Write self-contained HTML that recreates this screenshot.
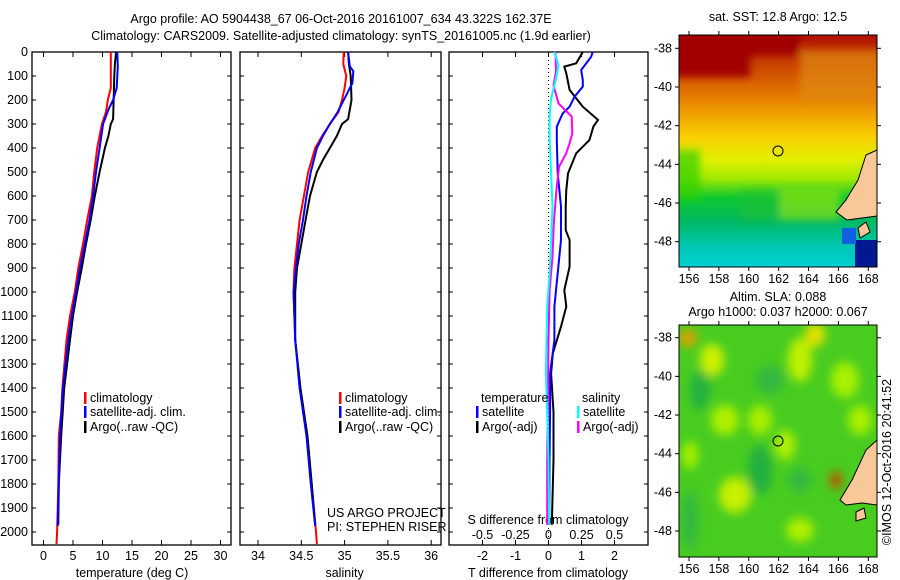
<!DOCTYPE html>
<html><head><meta charset="utf-8"><style>
body{margin:0;background:#fff;}
svg{display:block;font-family:"Liberation Sans",sans-serif;}
text{font-size:12.5px;fill:#000;}
</style></head><body>
<svg id="c" width="900" height="580" viewBox="0 0 900 580">
<defs>
<linearGradient id="sst" x1="0" y1="0" x2="0" y2="1">
<stop offset="0" stop-color="#b01000"/><stop offset="0.12" stop-color="#c84000"/>
<stop offset="0.24" stop-color="#e07000"/><stop offset="0.34" stop-color="#f0a000"/>
<stop offset="0.44" stop-color="#f8d000"/><stop offset="0.54" stop-color="#e0f000"/>
<stop offset="0.62" stop-color="#a0e800"/><stop offset="0.7" stop-color="#10c830"/>
<stop offset="0.8" stop-color="#00b860"/><stop offset="0.92" stop-color="#00c8b8"/><stop offset="1" stop-color="#00d0d0"/>
</linearGradient>
<filter id="bl"><feGaussianBlur stdDeviation="5"/></filter>
<filter id="bl2"><feGaussianBlur stdDeviation="4"/></filter>
<clipPath id="m1c"><rect x="679" y="35" width="198" height="232"/></clipPath>
<clipPath id="m2c"><rect x="679" y="325" width="198" height="232"/></clipPath>
</defs>
<text x="341" y="23" text-anchor="middle">Argo profile: AO 5904438_67 06-Oct-2016 20161007_634 43.322S 162.37E</text>
<text x="341" y="40" text-anchor="middle">Climatology: CARS2009. Satellite-adjusted climatology: synTS_20161005.nc (1.9d earlier)</text>
<g id="panels"></g>
<!-- SST map -->
<g>
<text x="778" y="21" text-anchor="middle">sat. SST: 12.8 Argo: 12.5</text>
<rect x="679" y="35" width="198" height="232" fill="url(#sst)"/>
<g clip-path="url(#m1c)" filter="url(#bl2)">
<rect x="670" y="25" width="80" height="52" fill="#a00000"/>
<rect x="740" y="25" width="60" height="30" fill="#a00000"/>
<rect x="800" y="50" width="80" height="50" fill="#e08a10" opacity="0.7"/>
<rect x="670" y="150" width="30" height="50" fill="#30d000" opacity="0.7"/>
<rect x="740" y="190" width="40" height="30" fill="#20c030" opacity="0.6"/>
<rect x="780" y="190" width="60" height="30" fill="#c0f000" opacity="0.5"/>
</g>
<rect x="855" y="240" width="22" height="27" fill="#001890"/>
<rect x="842" y="228" width="14" height="16" fill="#1060e0"/>
<path d="M877 150 L866 155 L858 180 L846 200 L836 212 L847 220 L862 218 L877 216 Z" fill="#f8c898" stroke="#000" stroke-width="1"/>
<path d="M858 228 L866 222 L870 232 L860 238 Z" fill="#f8c898" stroke="#000" stroke-width="1"/>
<circle cx="778" cy="151" r="5" fill="none" stroke="#000" stroke-width="1"/>
<rect x="679" y="35" width="198" height="232" fill="none" stroke="#000"/>
<g id="m1ax"></g>
</g>
<!-- SLA map -->
<g>
<text x="778" y="301" text-anchor="middle">Altim. SLA: 0.088</text>
<text x="778" y="316" text-anchor="middle">Argo h1000: 0.037 h2000: 0.067</text>
<rect x="679" y="325" width="198" height="232" fill="#48cc20"/>
<g clip-path="url(#m2c)" filter="url(#bl)">
<ellipse cx="688" cy="338" rx="9" ry="9" fill="#e0a000"/>
<ellipse cx="712" cy="360" rx="12" ry="16" fill="#d0f000"/>
<ellipse cx="800" cy="360" rx="12" ry="22" fill="#c0f000"/>
<ellipse cx="815" cy="335" rx="10" ry="12" fill="#e8e000"/>
<ellipse cx="845" cy="380" rx="14" ry="18" fill="#a8f000"/>
<ellipse cx="725" cy="420" rx="14" ry="15" fill="#b0f000"/>
<ellipse cx="760" cy="420" rx="12" ry="15" fill="#a8f000"/>
<ellipse cx="785" cy="445" rx="10" ry="15" fill="#b0f000"/>
<ellipse cx="735" cy="495" rx="16" ry="18" fill="#c8f000"/>
<ellipse cx="800" cy="530" rx="14" ry="12" fill="#b0f000"/>
<ellipse cx="860" cy="420" rx="12" ry="15" fill="#a8f000"/>
<ellipse cx="690" cy="455" rx="8" ry="14" fill="#a8f000"/>
<ellipse cx="700" cy="390" rx="10" ry="20" fill="#20b040"/>
<ellipse cx="760" cy="470" rx="12" ry="25" fill="#20b040"/>
<ellipse cx="800" cy="480" rx="12" ry="12" fill="#30b840"/>
<ellipse cx="690" cy="520" rx="8" ry="30" fill="#30b840"/>
<ellipse cx="770" cy="380" rx="14" ry="14" fill="#30b840"/>
<ellipse cx="836" cy="480" rx="6" ry="9" fill="#c05000"/>
</g>
<path d="M877 440 L866 450 L852 480 L840 500 L846 505 L862 503 L877 505 Z" fill="#f8c898" stroke="#000" stroke-width="1"/>
<path d="M856 512 L864 508 L866 518 L856 521 Z" fill="#f8c898" stroke="#000" stroke-width="1"/>
<circle cx="778" cy="441" r="5" fill="none" stroke="#000" stroke-width="1"/>
<rect x="679" y="325" width="198" height="232" fill="none" stroke="#000"/>
<g id="m2ax"></g>
<text transform="translate(891,462) rotate(-90)" text-anchor="middle">©IMOS 12-Oct-2016 20:41:52</text>
</g>
</svg>
<script>
// ---- data (depth in m) ----
const tClimD=[0,150,200,250,300,400,500,600,700,800,900,1000,1100,1200,1400,1500,1600,1800,2000,2050];
const tClimV=[11.4,11.4,10.9,10.6,9.9,9.1,8.6,8.2,7.4,6.7,5.9,5.3,4.5,3.9,3.2,3.0,2.6,2.5,2.3,2.2];
const tSatD=[0,60,150,200,240,300,400,500,600,700,800,900,1000,1100,1200,1400,1600,1800,1975];
const tSatV=[12.5,12.6,12.4,11.8,11.0,10.1,9.5,8.9,8.4,7.8,7.0,6.2,5.5,4.8,4.2,3.3,2.8,2.6,2.4];
const tArgoD=[0,50,100,280,300,350,400,500,600,700,800,900,1000,1100,1200,1400,1600,1800,1970];
const tArgoV=[12.3,12.1,12.0,11.8,11.4,11.0,10.4,9.5,8.7,8.0,7.2,6.5,5.7,5.0,4.5,3.5,3.0,2.6,2.5];
const sClimD=[0,50,100,150,200,250,300,350,400,450,500,600,700,800,900,1000,1200,1400,1600,1800,2000,2050];
const sClimV=[34.99,34.985,35.02,35.0,34.97,34.93,34.83,34.74,34.66,34.62,34.58,34.53,34.48,34.45,34.42,34.41,34.43,34.49,34.57,34.62,34.67,34.68];
const sSatD=[0,60,80,130,150,180,200,250,300,350,400,500,600,700,800,900,1000,1100,1200,1400,1600,1800,1975];
const sSatV=[35.04,35.06,35.10,35.09,35.06,35.02,34.99,34.92,34.83,34.75,34.68,34.61,34.56,34.52,34.47,34.44,34.41,34.42,34.43,34.48,34.56,34.61,34.66];
const sArgoD=[0,50,100,200,280,300,350,400,450,500,550,600,700,800,900,1000,1200,1400,1600,1800,1970];
const sArgoV=[35.04,35.05,35.07,35.08,35.04,34.97,34.91,34.83,34.75,34.68,34.64,34.60,34.55,34.50,34.45,34.43,34.43,34.49,34.57,34.62,34.66];
const dTArgoD=[0,47,61,89,158,228,283,311,367,422,506,575,644,742,783,894,992,1061,1144,1256,1339,1500,1700,1970];
const dTArgoV=[1.04,0.84,0.48,0.54,0.64,1.04,1.5,1.36,1.24,0.84,0.59,0.54,0.52,0.52,0.64,0.64,0.48,0.54,0.38,0.13,0.08,0.15,0.15,0.1];
const dTSatD=[0,20,75,117,144,186,228,256,311,367,506,644,783,922,1061,1200,1339,1500,1700,1970];
const dTSatV=[1.34,1.29,0.99,1.04,1.04,0.79,0.64,0.43,0.25,0.25,0.28,0.38,0.38,0.28,0.18,0.18,0.05,0.05,0.03,0.02];
const dSArgoD=[0,83,139,214,269,339,381,422,478,575,714,853,992,1200,1500,1700,1970];
const dSArgoV=[0.053,0.057,0.038,0.076,0.176,0.18,0.159,0.134,0.08,0.06,0.04,0.03,0.008,0.0,-0.005,-0.01,-0.01];
const dSSatD=[0,55,111,194,264,367,506,644,783,922,1061,1200,1339,1500,1700,1970];
const dSSatV=[0.045,0.076,0.057,0.02,0.008,0.008,0.02,0.03,0.02,0.008,-0.01,-0.015,-0.02,-0.01,0.0,0.005];
const depthTicks=[0,100,200,300,400,500,600,700,800,900,1000,1100,1200,1300,1400,1500,1600,1700,1800,1900,2000];
const tTicks=[0,5,10,15,20,25,30];
const sTicks=[34,34.5,35,35.5,36];
const dTTicks=[-2,-1,0,1,2];
const dSTicks=[-0.5,-0.25,0,0.25,0.5];
const dSTickLabels=["-0.5","-0.25","0","0.25","0.5"];
const latTicks=[-38,-40,-42,-44,-46,-48];
const lonTicks=[156,158,160,162,164,166,168];

// ---- scales ----
const yD=d=>52+d*0.24;
const xT=t=>43.5+t*5.9;
const xS=s=>258+(s-34)*86.6;
const xDT=t=>548.5+t*33;
const xDS=s=>548.5+s*132;
const NS='http://www.w3.org/2000/svg';
const g=document.getElementById('panels');
function mk(tag,attrs,parent){const e=document.createElementNS(NS,tag);for(const k in attrs)e.setAttribute(k,attrs[k]);(parent||g).appendChild(e);return e;}
function txt(x,y,s,anchor,parent){const e=mk('text',{x:x,y:y,'text-anchor':anchor||'start'},parent);e.textContent=s;return e;}
function stepLine(D,V,xf,color,w){let p='';for(let i=0;i<D.length;i++){const x=xf(V[i]).toFixed(1),y=yD(D[i]).toFixed(1);p+=(i?'L':'M')+x+' '+y;}return mk('path',{d:p,fill:'none',stroke:color,'stroke-width':w});}

const frames=[[32,231],[240,441],[449,648]];
frames.forEach((f,i)=>{
 const r=mk('rect',{x:f[0],y:52,width:f[1]-f[0],height:493,fill:'none',stroke:'#000','stroke-width':1.3});
 
 
 depthTicks.forEach(d=>{mk('line',{x1:f[0],x2:f[0]+4,y1:yD(d),y2:yD(d),stroke:'#000'});mk('line',{x1:f[1]-4,x2:f[1],y1:yD(d),y2:yD(d),stroke:'#000'});});
});
depthTicks.forEach(d=>{const t=txt(28,yD(d)+4,String(d),'end');});
tTicks.forEach(v=>{mk('line',{x1:xT(v),x2:xT(v),y1:52,y2:57,stroke:'#000'});mk('line',{x1:xT(v),x2:xT(v),y1:540,y2:545,stroke:'#000'});const t=txt(xT(v),560,String(v),'middle');});
sTicks.forEach(v=>{mk('line',{x1:xS(v),x2:xS(v),y1:52,y2:57,stroke:'#000'});mk('line',{x1:xS(v),x2:xS(v),y1:540,y2:545,stroke:'#000'});const t=txt(xS(v),560,String(v),'middle');});
dTTicks.forEach(v=>{mk('line',{x1:xDT(v),x2:xDT(v),y1:52,y2:57,stroke:'#000'});mk('line',{x1:xDT(v),x2:xDT(v),y1:540,y2:545,stroke:'#000'});const t=txt(xDT(v),560,String(v),'middle');});
dSTicks.forEach((v,i)=>{const t=txt(xDS(v),539,dSTickLabels[i],'middle');});
mk('line',{x1:xDT(0),x2:xDT(0),y1:52,y2:545,stroke:'#000','stroke-dasharray':'1 3'});

let a;
a=txt(xT(15),577,'temperature (deg C)','middle');
a=txt(xS(35),577,'salinity','middle');
a=txt(548,577,'T difference from climatology','middle');
a=txt(548,524,'S difference from climatology','middle');
a=txt(327,517,'US ARGO PROJECT');
a=txt(327,531,'PI: STEPHEN RISER');

let l;
l=stepLine(tClimD,tClimV,xT,'#f00',2);
l=stepLine(tArgoD,tArgoV,xT,'#000',2);
l=stepLine(tSatD,tSatV,xT,'#00f',2);
l=stepLine(sClimD,sClimV,xS,'#f00',2);
l=stepLine(sArgoD,sArgoV,xS,'#000',2);
l=stepLine(sSatD,sSatV,xS,'#00f',2);
l=stepLine(dTArgoD,dTArgoV,xDT,'#000',2);
l=stepLine(dTSatD,dTSatV,xDT,'#00f',2);
l=stepLine(dSArgoD,dSArgoV,xDS,'#f0f',2);
l=stepLine(dSSatD,dSSatV,xDS,'#0ff',2);

function legend(x,y,color,label){mk('rect',{x:x-6,y:y-10,width:2.5,height:12,fill:color});const t=txt(x,y,label);}
legend(90,402,'#f00','climatology');legend(90,416,'#00f','satellite-adj. clim.');legend(90,431,'#000','Argo(..raw -QC)');
legend(345,402,'#f00','climatology');legend(345,416,'#00f','satellite-adj. clim.');legend(345,431,'#000','Argo(..raw -QC)');
a=txt(481,402,'temperature');
a=txt(582,402,'salinity');
legend(482,416,'#00f','satellite');legend(482,431,'#000','Argo(-adj)');
legend(583,416,'#0ff','satellite');legend(583,431,'#f0f','Argo(-adj)');

// map axes
function mapAxes(gid,top,bottom,lat38,lat48){
 const p=document.getElementById(gid);
 const yl=la=>lat38+(la+38)/(-10)*(lat48-lat38);
 const xl=lo=>689+(lo-156)*14.94;
 latTicks.forEach(la=>{const y=yl(la);mk('line',{x1:675,x2:679,y1:y,y2:y,stroke:'#000'},p);mk('line',{x1:877,x2:881,y1:y,y2:y,stroke:'#000'},p);const t=txt(672,y+4,String(la),'end',p);});
 lonTicks.forEach(lo=>{const x=xl(lo);mk('line',{x1:x,x2:x,y1:top-4,y2:top,stroke:'#000'},p);mk('line',{x1:x,x2:x,y1:bottom,y2:bottom+4,stroke:'#000'},p);const t=txt(x,bottom+16,String(lo),'middle',p);});
}
mapAxes('m1ax',35,267,48.3,241.7);
mapAxes('m2ax',325,557,337.7,531);
</script>
</body></html>
